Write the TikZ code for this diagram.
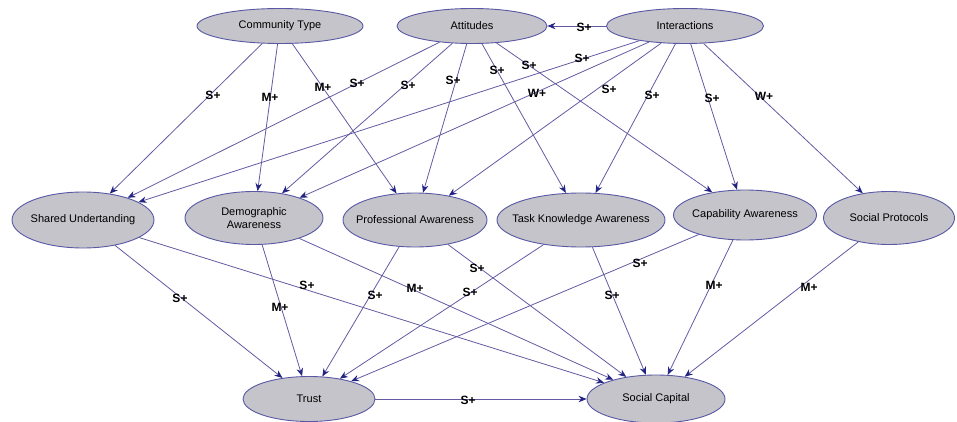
\documentclass[tikz,border=0pt]{standalone}
\usepackage{fontspec}
\setmainfont{Liberation Sans}
\usetikzlibrary{shapes.geometric,arrows.meta}
\definecolor{nodefill}{RGB}{196,196,202}
\definecolor{nodeline}{RGB}{88,88,165}
\definecolor{edgeline}{RGB}{98,90,162}
\definecolor{tipcol}{RGB}{35,35,130}
\begin{document}
\begin{tikzpicture}[x=1pt,y=-1pt,
  var/.style={ellipse,draw=nodeline,fill=nodefill,line width=0.9pt,
    inner xsep=-30pt,inner ysep=-4pt,
    font=\fontsize{11}{12.5}\selectfont,align=center},
  rel/.style={draw=edgeline,line width=0.8pt,
    -{Stealth[length=8pt,width=6.5pt,color=tipcol,fill=tipcol]}},
  lab/.style={font=\fontsize{12}{14}\selectfont\bfseries,text=black,inner sep=0pt}]
\useasboundingbox (0,0) rectangle (957,422);
% top row
\node[var,minimum width=166pt,minimum height=35pt] (ct)  at (280,26) {Community Type};
\node[var,minimum width=150pt,minimum height=35pt] (att) at (472,26) {Attitudes};
\node[var,minimum width=157pt,minimum height=35pt] (int) at (685,26) {Interactions};
% middle row
\node[var,minimum width=142pt,minimum height=56pt] (su)  at (83,220)  {Shared Undertanding};
\node[var,minimum width=138pt,minimum height=53pt] (da)  at (254,218) {Demographic\\Awareness};
\node[var,minimum width=144pt,minimum height=54pt] (pa)  at (415,220) {Professional Awareness};
\node[var,minimum width=168pt,minimum height=54pt] (tka) at (581,220) {Task Knowledge Awareness};
\node[var,minimum width=143pt,minimum height=50pt] (ca)  at (745,215) {Capability Awareness};
\node[var,minimum width=131pt,minimum height=53pt] (sp)  at (889,218) {Social Protocols};
% bottom row
\node[var,minimum width=132pt,minimum height=45pt] (tr)  at (309,399) {Trust};
\node[var,minimum width=138pt,minimum height=48pt] (sc)  at (656,399) {Social Capital};
% edges top -> middle
\draw[rel] (int) -- (att);
\draw[rel] (ct) -- (su);
\draw[rel] (ct) -- (da);
\draw[rel] (ct) -- (pa);
\draw[rel] (att) -- (su);
\draw[rel] (att) -- (da);
\draw[rel] (att) -- (pa);
\draw[rel] (att) -- (tka);
\draw[rel] (att) -- (ca);
\draw[rel] (int) -- (su);
\draw[rel] (int) -- (da);
\draw[rel] (int) -- (pa);
\draw[rel] (int) -- (tka);
\draw[rel] (int) -- (ca);
\draw[rel] (int) -- (sp);
% edges middle -> bottom
\draw[rel] (su) -- (tr);
\draw[rel] (su) -- (sc);
\draw[rel] (da) -- (tr);
\draw[rel] (da) -- (sc);
\draw[rel] (pa) -- (tr);
\draw[rel] (pa) -- (sc);
\draw[rel] (tka) -- (tr);
\draw[rel] (tka) -- (sc);
\draw[rel] (ca) -- (tr);
\draw[rel] (ca) -- (sc);
\draw[rel] (sp) -- (sc);
\draw[rel] (tr) -- (sc);
% labels
\node[lab] (l1)  at (584,27) {S+};
\node[lab] (l2)  at (213,95) {S+};
\node[lab] (l3)  at (270,97) {M+};
\node[lab] (l4)  at (323,87) {M+};
\node[lab] (l5)  at (357,83) {S+};
\node[lab] (l6)  at (408,85) {S+};
\node[lab] (l7)  at (453,80) {S+};
\node[lab] (l8)  at (497,70) {S+};
\node[lab] (l9)  at (529,65) {S+};
\node[lab] (l10) at (582,58) {S+};
\node[lab] (l11) at (537,93) {W+};
\node[lab] (l12) at (609,89) {S+};
\node[lab] (l13) at (652,95) {S+};
\node[lab] (l14) at (712,98) {S+};
\node[lab] (l15) at (764,96) {W+};
\node[lab] (l16) at (180,298) {S+};
\node[lab] (l17) at (307,285) {S+};
\node[lab] (l18) at (280,307) {M+};
\node[lab] (l19) at (415,288) {M+};
\node[lab] (l20) at (375,295) {S+};
\node[lab] (l21) at (477,268) {S+};
\node[lab] (l22) at (470,292) {S+};
\node[lab] (l23) at (612,295) {S+};
\node[lab] (l24) at (640,263) {S+};
\node[lab] (l25) at (714,285) {M+};
\node[lab] (l26) at (809,287) {M+};
\node[lab] (l27) at (468,400) {S+};
\end{tikzpicture}
\end{document}
